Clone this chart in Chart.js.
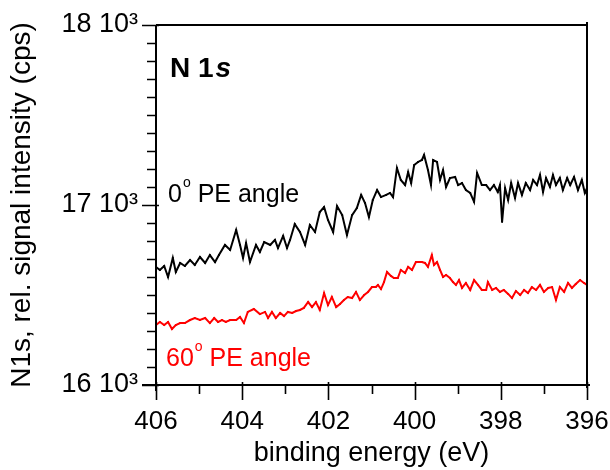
<!DOCTYPE html>
<html>
<head>
<meta charset="utf-8">
<script src="https://cdn.jsdelivr.net/npm/chart.js@4"></script>
<style>
  html, body { margin: 0; padding: 0; background: #fff; }
  #wrap { width: 610px; height: 470px; }
</style>
</head>
<body>
<div id="wrap"><canvas id="xps"></canvas></div>
<script>
// N 1s spectra
const energy0 = [406.00, 405.91, 405.81, 405.72, 405.61, 405.54, 405.44, 405.33, 405.21, 405.10,
  404.98, 404.86, 404.75, 404.63, 404.54, 404.40, 404.28, 404.14, 404.05, 403.98,
  403.91, 403.82, 403.68, 403.59, 403.49, 403.35, 403.24, 403.17, 403.05, 402.96,
  402.89, 402.78, 402.66, 402.54, 402.43, 402.31, 402.20, 402.10, 402.01, 401.89,
  401.80, 401.68, 401.57, 401.45, 401.34, 401.24, 401.15, 401.06, 400.97, 400.87,
  400.78, 400.66, 400.57, 400.50, 400.41, 400.32, 400.22, 400.15, 400.08, 400.01,
  399.92, 399.83, 399.78, 399.69, 399.62, 399.57, 399.48, 399.41, 399.34, 399.27,
  399.18, 399.06, 398.99, 398.90, 398.81, 398.71, 398.62, 398.55, 398.44, 398.34,
  398.25, 398.16, 398.07, 398.02, 397.97, 397.90, 397.83, 397.76, 397.67, 397.60,
  397.51, 397.42, 397.32, 397.25, 397.16, 397.09, 397.02, 396.95, 396.86, 396.79,
  396.72, 396.63, 396.56, 396.46, 396.39, 396.30, 396.21, 396.12, 396.05, 396.00];
const counts0 = [16656, 16639, 16661, 16600, 16706, 16628, 16678, 16661, 16694, 16667,
  16711, 16678, 16722, 16683, 16722, 16778, 16750, 16861, 16778, 16706,
  16789, 16683, 16778, 16739, 16794, 16778, 16806, 16761, 16828, 16761,
  16806, 16894, 16850, 16778, 16889, 16850, 16961, 16989, 16917, 16850,
  16994, 16944, 16833, 16944, 16983, 17056, 17011, 16933, 17028, 17083,
  17044, 17056, 17067, 17044, 17206, 17139, 17111, 17183, 17122, 17222,
  17239, 17250, 17278, 17194, 17111, 17250, 17239, 17139, 17194, 17100,
  17150, 17156, 17111, 17122, 17083, 17067, 17017, 17178, 17111, 17111,
  17083, 17111, 17072, 17111, 16906, 17094, 17028, 17122, 17039, 17122,
  17056, 17122, 17083, 17139, 17111, 17167, 17072, 17150, 17100, 17167,
  17111, 17150, 17083, 17150, 17111, 17156, 17083, 17139, 17067, 17094];

const energy60 = [406.00, 405.91, 405.81, 405.72, 405.63, 405.54, 405.44, 405.33, 405.21, 405.10,
  404.98, 404.86, 404.75, 404.65, 404.56, 404.47, 404.38, 404.28, 404.14, 404.05,
  403.96, 403.87, 403.73, 403.59, 403.47, 403.40, 403.31, 403.22, 403.12, 403.03,
  402.94, 402.84, 402.75, 402.66, 402.57, 402.47, 402.38, 402.29, 402.20, 402.10,
  402.01, 401.92, 401.82, 401.73, 401.64, 401.55, 401.45, 401.36, 401.27, 401.17,
  401.08, 400.99, 400.90, 400.85, 400.78, 400.71, 400.64, 400.55, 400.48, 400.39,
  400.32, 400.22, 400.15, 400.06, 399.97, 399.90, 399.83, 399.76, 399.69, 399.60,
  399.55, 399.48, 399.41, 399.34, 399.27, 399.18, 399.11, 399.04, 398.97, 398.90,
  398.81, 398.71, 398.62, 398.53, 398.44, 398.34, 398.30, 398.20, 398.11, 398.02,
  397.93, 397.83, 397.74, 397.65, 397.55, 397.46, 397.37, 397.28, 397.18, 397.09,
  397.00, 396.90, 396.81, 396.72, 396.63, 396.53, 396.44, 396.35, 396.26, 396.16,
  396.07, 396.00];
const counts60 = [16333, 16350, 16333, 16350, 16311, 16333, 16344, 16344, 16361, 16372,
  16361, 16372, 16344, 16372, 16350, 16361, 16350, 16361, 16361, 16378,
  16344, 16406, 16422, 16394, 16406, 16372, 16406, 16372, 16400, 16383,
  16406, 16400, 16411, 16417, 16428, 16461, 16433, 16461, 16417, 16511,
  16444, 16489, 16433, 16450, 16472, 16489, 16483, 16517, 16472, 16500,
  16517, 16544, 16544, 16556, 16533, 16572, 16628, 16606, 16594, 16594,
  16639, 16622, 16656, 16639, 16683, 16683, 16683, 16678, 16656, 16722,
  16667, 16683, 16639, 16600, 16611, 16594, 16572, 16556, 16583, 16539,
  16567, 16528, 16583, 16556, 16528, 16528, 16572, 16528, 16539, 16517,
  16528, 16506, 16483, 16522, 16500, 16528, 16511, 16544, 16528, 16556,
  16517, 16539, 16544, 16472, 16544, 16517, 16567, 16539, 16561, 16583,
  16567, 16556];

const xMin = 396, xMax = 406;
const yMin = 16000, yMax = 18000;

const FONT = "'Liberation Sans', Arial, sans-serif";

function pairs(xs, ys) {
    return xs.map((x, i) => ({ x: x, y: ys[i] }));
}

// frame and tick marks (major ticks longer than minor ones)
const axesPlugin = {
    id: 'axesPlugin',
    afterDraw(chart) {
        const ctx = chart.ctx;
        const a = chart.chartArea;
        const xs = chart.scales.x, ys = chart.scales.y;
        ctx.save();
        ctx.strokeStyle = '#000';
        ctx.lineWidth = 2;
        ctx.lineCap = 'butt';
        ctx.beginPath();
        ctx.moveTo(a.left, a.top); ctx.lineTo(a.right, a.top);
        ctx.moveTo(a.right, a.top - 3); ctx.lineTo(a.right, a.bottom + 3);
        ctx.moveTo(a.left - 14, a.bottom); ctx.lineTo(a.right + 3, a.bottom);
        ctx.moveTo(a.left, a.top); ctx.lineTo(a.left, a.bottom + 6);
        ctx.stroke();

        ctx.lineWidth = 1.6;
        ctx.beginPath();
        for (let v = yMin; v <= yMax; v += 100) {
            const py = Math.round(ys.getPixelForValue(v)) + 0.5;
            const len = (v % 1000 === 0) ? 14 : 9;
            ctx.moveTo(a.left - len, py); ctx.lineTo(a.left + (v % 1000 === 0 ? 3 : 0), py);
        }
        for (let v = xMin; v <= xMax; v += 1) {
            const px = Math.round(xs.getPixelForValue(v)) + 0.5;
            const major = v % 2 === 0;
            ctx.moveTo(px, a.bottom - (major ? 3 : 0)); ctx.lineTo(px, a.bottom + (major ? 15 : 9));
        }
        ctx.stroke();
        ctx.restore();
    }
};

// text labels inside the plot
function supText(ctx, x, y, base, sup, rest, size, color) {
    ctx.fillStyle = color;
    ctx.font = size + 'px ' + FONT;
    ctx.fillText(base, x, y);
    x += ctx.measureText(base).width + 1;
    ctx.font = Math.round(size * 0.56) + 'px ' + FONT;
    ctx.fillText(sup, x, y - size * 0.6);
    x += ctx.measureText(sup).width;
    ctx.font = size + 'px ' + FONT;
    ctx.fillText(rest, x, y);
}

const labelPlugin = {
    id: 'labelPlugin',
    afterDraw(chart) {
        const ctx = chart.ctx;
        const a = chart.chartArea;
        ctx.save();
        ctx.textBaseline = 'alphabetic';
        ctx.textAlign = 'left';
        ctx.fillStyle = '#000';
        ctx.font = 'bold 28px ' + FONT;
        ctx.fillText('N 1', a.left + 14, a.top + 52);
        const w = ctx.measureText('N 1').width;
        ctx.font = 'italic bold 28px ' + FONT;
        ctx.fillText('s', a.left + 16 + w, a.top + 52);

        supText(ctx, a.left + 12, a.top + 177, '0', 'o', ' PE angle', 25, '#000');
        supText(ctx, a.left + 10, a.top + 341, '60', 'o', ' PE angle', 25, '#ff0000');
        ctx.restore();
    }
};

const data = {
    datasets: [
        {
            label: '0° PE angle',
            data: pairs(energy0, counts0),
            borderColor: '#000000',
            backgroundColor: '#000000',
            borderWidth: 2,
            pointRadius: 1.3,
            pointStyle: 'rect',
            pointBorderWidth: 0,
            tension: 0
        },
        {
            label: '60° PE angle',
            data: pairs(energy60, counts60),
            borderColor: '#ff0000',
            backgroundColor: '#ff0000',
            borderWidth: 2,
            pointRadius: 1.3,
            pointStyle: 'rect',
            pointBorderWidth: 0,
            tension: 0
        }
    ]
};

const options = {
    responsive: false,
    animation: false,
    layout: { padding: { left: 0, right: 23, top: 25, bottom: 0 } },
    plugins: {
        legend: { display: false },
        tooltip: { enabled: false }
    },
    scales: {
        x: {
            type: 'linear',
            reverse: true,
            min: xMin,
            max: xMax,
            grid: { display: false, drawTicks: false },
            border: { display: false },
            ticks: {
                stepSize: 1,
                autoSkip: false,
                maxRotation: 0,
                padding: 21,
                color: '#000',
                font: { family: FONT, size: 26 },
                callback: v => (v % 2 === 0 ? String(v) : '')
            },
            title: {
                display: true,
                text: 'binding energy (eV)',
                color: '#000',
                padding: { top: 0, bottom: 0 },
                font: { family: FONT, size: 27 }
            },
            afterFit(scale) {
                scale.height = 85;
                scale.paddingLeft = 0;
                scale.paddingRight = 0;
            }
        },
        y: {
            min: yMin,
            max: yMax,
            grid: { display: false, drawTicks: false },
            border: { display: false },
            ticks: {
                stepSize: 100,
                autoSkip: false,
                padding: 18,
                color: '#000',
                font: { family: FONT, size: 27 },
                callback: v => (v % 1000 === 0 ? (v / 1000) + ' 10\u00B3' : '')
            },
            title: {
                display: true,
                text: 'N1s, rel. signal intensity (cps)',
                color: '#000',
                padding: { top: 5, bottom: 0 },
                font: { family: FONT, size: 28 }
            },
            afterFit(scale) {
                scale.width = 156;
                scale.paddingTop = 0;
                scale.paddingBottom = 0;
            }
        }
    }
};

const canvas = document.getElementById('xps');
canvas.width = 610;
canvas.height = 470;
new Chart(canvas.getContext('2d'), {
    type: 'line',
    data: data,
    options: options,
    plugins: [axesPlugin, labelPlugin]
});
</script>
</body>
</html>
